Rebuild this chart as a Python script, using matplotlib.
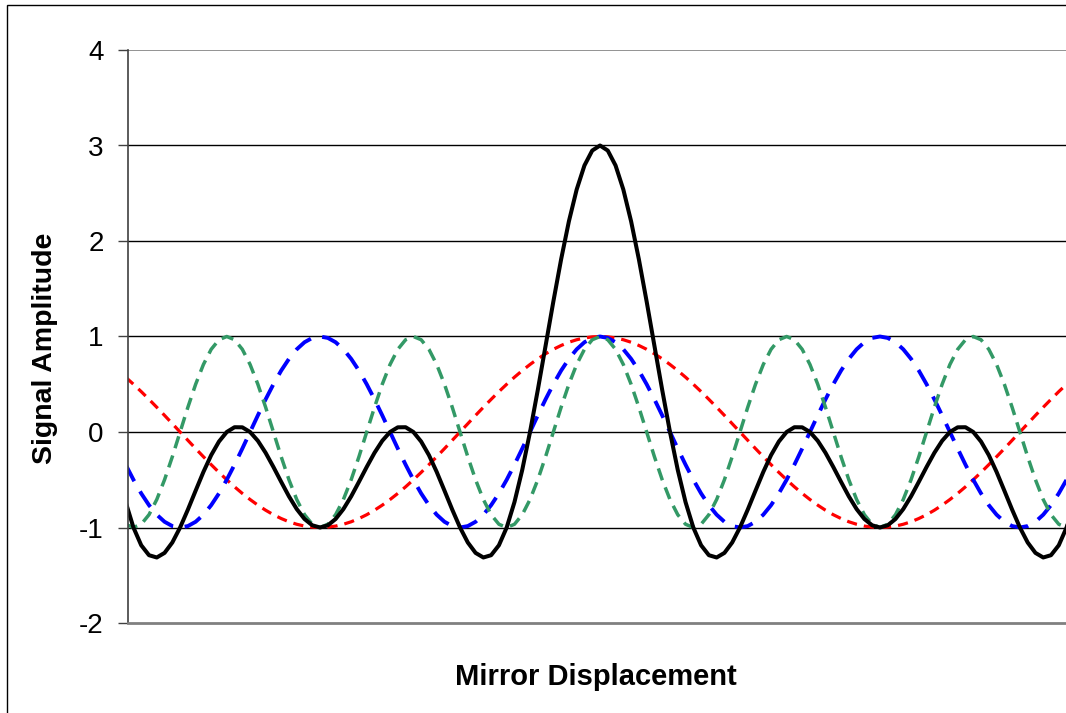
import numpy as np
import matplotlib.pyplot as plt
from matplotlib.patches import Rectangle

# mirror displacement, as phase of the slowest wave (degrees), step 5
displacement = np.arange(-305, 306, 5)

# slow wave (red)
wave_slow = [
    0.574, 0.5, 0.423, 0.342, 0.259, 0.174, 0.087, 0, -0.087, -0.174, -0.259, -0.342,
    -0.423, -0.5, -0.574, -0.643, -0.707, -0.766, -0.819, -0.866, -0.906, -0.940, -0.966,
    -0.985, -0.996, -1, -0.996, -0.985, -0.966, -0.940, -0.906, -0.866, -0.819, -0.766,
    -0.707, -0.643, -0.574, -0.5, -0.423, -0.342, -0.259, -0.174, -0.087, 0, 0.087, 0.174,
    0.259, 0.342, 0.423, 0.5, 0.574, 0.643, 0.707, 0.766, 0.819, 0.866, 0.906, 0.940,
    0.966, 0.985, 0.996,
    1, 0.996, 0.985, 0.966, 0.940, 0.906, 0.866, 0.819, 0.766, 0.707, 0.643, 0.574, 0.5,
    0.423, 0.342, 0.259, 0.174, 0.087, 0, -0.087, -0.174, -0.259, -0.342, -0.423, -0.5,
    -0.574, -0.643, -0.707, -0.766, -0.819, -0.866, -0.906, -0.940, -0.966, -0.985, -0.996,
    -1, -0.996, -0.985, -0.966, -0.940, -0.906, -0.866, -0.819, -0.766, -0.707, -0.643,
    -0.574, -0.5, -0.423, -0.342, -0.259, -0.174, -0.087, 0, 0.087, 0.174, 0.259, 0.342,
    0.423, 0.5, 0.574,
]

# medium wave (blue)
wave_mid = [
    -0.342, -0.5, -0.643, -0.766, -0.866, -0.940, -0.985, -1, -0.985, -0.940, -0.866,
    -0.766, -0.643, -0.5, -0.342, -0.174, 0, 0.174, 0.342, 0.5, 0.643, 0.766, 0.866, 0.940,
    0.985, 1, 0.985, 0.940, 0.866, 0.766, 0.643, 0.5, 0.342, 0.174, 0, -0.174, -0.342, -0.5,
    -0.643, -0.766, -0.866, -0.940, -0.985, -1, -0.985, -0.940, -0.866, -0.766, -0.643,
    -0.5, -0.342, -0.174, 0, 0.174, 0.342, 0.5, 0.643, 0.766, 0.866, 0.940, 0.985,
    1, 0.985, 0.940, 0.866, 0.766, 0.643, 0.5, 0.342, 0.174, 0, -0.174, -0.342, -0.5,
    -0.643, -0.766, -0.866, -0.940, -0.985, -1, -0.985, -0.940, -0.866, -0.766, -0.643,
    -0.5, -0.342, -0.174, 0, 0.174, 0.342, 0.5, 0.643, 0.766, 0.866, 0.940, 0.985, 1,
    0.985, 0.940, 0.866, 0.766, 0.643, 0.5, 0.342, 0.174, 0, -0.174, -0.342, -0.5, -0.643,
    -0.766, -0.866, -0.940, -0.985, -1, -0.985, -0.940, -0.866, -0.766, -0.643, -0.5, -0.342,
]

# fast wave (green)
wave_fast = [
    -0.966, -1, -0.966, -0.866, -0.707, -0.5, -0.259, 0, 0.259, 0.5, 0.707, 0.866, 0.966, 1,
    0.966, 0.866, 0.707, 0.5, 0.259, 0, -0.259, -0.5, -0.707, -0.866, -0.966, -1, -0.966,
    -0.866, -0.707, -0.5, -0.259, 0, 0.259, 0.5, 0.707, 0.866, 0.966, 1,
    0.966, 0.866, 0.707, 0.5, 0.259, 0, -0.259, -0.5, -0.707, -0.866, -0.966, -1, -0.966,
    -0.866, -0.707, -0.5, -0.259, 0, 0.259, 0.5, 0.707, 0.866, 0.966,
    1, 0.966, 0.866, 0.707, 0.5, 0.259, 0, -0.259, -0.5, -0.707, -0.866, -0.966, -1, -0.966,
    -0.866, -0.707, -0.5, -0.259, 0, 0.259, 0.5, 0.707, 0.866, 0.966,
    1, 0.966, 0.866, 0.707, 0.5, 0.259, 0, -0.259, -0.5, -0.707, -0.866, -0.966, -1, -0.966,
    -0.866, -0.707, -0.5, -0.259, 0, 0.259, 0.5, 0.707, 0.866, 0.966,
    1, 0.966, 0.866, 0.707, 0.5, 0.259, 0, -0.259, -0.5, -0.707, -0.866, -0.966, -1, -0.966,
]

# detector signal (black)
signal_total = [
    -0.734, -1, -1.186, -1.290, -1.314, -1.266, -1.157, -1, -0.813, -0.614, -0.418, -0.242,
    -0.100, 0, 0.050, 0.049, 0, -0.092, -0.218, -0.366, -0.522, -0.674, -0.807, -0.911,
    -0.977, -1, -0.977, -0.911, -0.807, -0.674, -0.522, -0.366, -0.218, -0.092, 0, 0.049,
    0.050, 0, -0.100, -0.242, -0.418, -0.614, -0.813, -1, -1.157, -1.266, -1.314, -1.290,
    -1.186, -1, -0.734, -0.397, 0, 0.440, 0.902, 1.366, 1.808, 2.206, 2.539, 2.791, 2.947,
    3, 2.947, 2.791, 2.539, 2.206, 1.808, 1.366, 0.902, 0.440, 0, -0.397, -0.734, -1,
    -1.186, -1.290, -1.314, -1.266, -1.157, -1, -0.813, -0.614, -0.418, -0.242, -0.100, 0,
    0.050, 0.049, 0, -0.092, -0.218, -0.366, -0.522, -0.674, -0.807, -0.911, -0.977, -1,
    -0.977, -0.911, -0.807, -0.674, -0.522, -0.366, -0.218, -0.092, 0, 0.049, 0.050, 0,
    -0.100, -0.242, -0.418, -0.614, -0.813, -1, -1.157, -1.266, -1.314, -1.290, -1.186, -1,
    -0.734,
]

y_ticks = [-2, -1, 0, 1, 2, 3, 4]

plt.rcParams['font.family'] = ['Liberation Sans', 'DejaVu Sans']

fig = plt.figure(figsize=(10.66, 7.13), dpi=100)

# chart area border (runs off the right and bottom of the picture)
fig.patches.append(Rectangle((7 / 1066, -0.1), 1.2, 1.1 - 5 / 713,
                             transform=fig.transFigure, fill=False,
                             edgecolor='black', linewidth=1))

ax = fig.add_axes([128 / 1066, 1 - 623 / 713, 944 / 1066, 573 / 713])

ax.plot(displacement, wave_slow, color='#FF0000', lw=2.3, dashes=(3.2, 2.2))
ax.plot(displacement, wave_mid, color='#0000FF', lw=2.8, dashes=(4.8, 3.0))
ax.plot(displacement, wave_fast, color='#339966', lw=2.5, dashes=(3.6, 2.2))
ax.plot(displacement, signal_total, color='black', lw=2.9, solid_joinstyle='round')

ax.set_xlim(-303.5, 303.5)
ax.set_ylim(-2, 4)
ax.set_yticks(y_ticks)
ax.set_yticklabels([str(v) for v in y_ticks], fontsize=20)
ax.set_xticks([])

for v in y_ticks[1:-1]:
    ax.axhline(v, color='black', lw=1, zorder=0)
ax.axhline(4, color='#808080', lw=1.2, zorder=0)

for side in ['top', 'right']:
    ax.spines[side].set_visible(False)
ax.spines['left'].set_color('#404040')
ax.spines['left'].set_linewidth(1.2)
ax.spines['bottom'].set_color('#808080')
ax.spines['bottom'].set_linewidth(2)
ax.tick_params(axis='y', length=7.5, width=1, color='#404040', pad=10)

fig.text(45 / 1066, 1 - 348 / 713, 'Signal Amplitude', rotation=90,
         fontsize=20.5, fontweight='bold', ha='center', va='center')
fig.text(596 / 1066, 1 - 685 / 713, 'Mirror Displacement',
         fontsize=21, fontweight='bold', ha='center', va='baseline')

fig.savefig('out.png', dpi=100)
